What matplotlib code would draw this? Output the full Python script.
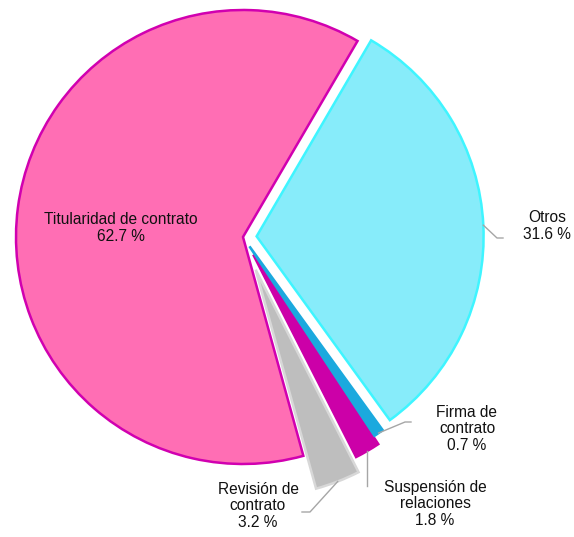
import numpy as np
import matplotlib.pyplot as plt

plt.rcParams['font.family'] = ['Liberation Sans', 'DejaVu Sans']

# Datos
categorias = ['Titularidad de contrato', 'Revisión de\ncontrato', 'Suspensión de\nrelaciones',
              'Firma de\ncontrato', 'Otros']
porcentajes = [62.7, 3.2, 1.8, 0.7, 31.6]

colores = ['#FF6EB4', '#BEBEBE', '#CC00A8', '#1BA9DE', '#87ECFA']
bordes = ['#D100B0', '#D8D8D8', '#CC00A8', '#1BA9DE', '#3FF5FF']
separacion = [0, 0.155, 0.09, 0.05, 0.06]

# Geometria de la figura (px)
W, H = 574, 537
cx, cy, R = 243, 237, 227

fig = plt.figure(figsize=(W / 100, H / 100), dpi=100)
ax = fig.add_axes([0, 0, 1, 1])

wedges, _ = ax.pie(porcentajes, colors=colores, explode=separacion, startangle=59.7,
                   counterclock=True, radius=1, center=(0, 0), frame=True,
                   wedgeprops=dict(linewidth=1.8))
for w, b in zip(wedges, bordes):
    w.set_edgecolor(b)
ax.set_xlim(-cx / R, (W - cx) / R)
ax.set_ylim(-(H - cy) / R, cy / R)
ax.set_aspect('equal')
ax.axis('off')


def px(x, y):
    return (x - cx) / R, (cy - y) / R


def borde(i, frac=0.5, r=1.0):
    w = wedges[i]
    ang = np.deg2rad(w.theta1 + frac * (w.theta2 - w.theta1))
    c = w.center
    return c[0] + r * np.cos(ang), c[1] + r * np.sin(ang)


etiquetas = [f'{c}\n{str(p)} %' for c, p in zip(categorias, porcentajes)]
kw = dict(fontsize=11.2, ha='center', va='center', color='#111111', linespacing=1.15)
gris = '#A6A6A6'

# Titularidad (dentro)
ax.text(*px(121, 228), etiquetas[0], **kw)

# Otros
x0, y0 = borde(4, 0.5, 1.0)
x1, y1 = px(497, 238)
x2, y2 = px(503, 238)
ax.plot([x0, x1, x2], [y0, y1, y2], color=gris, lw=1)
ax.text(*px(547, 226), etiquetas[4], **kw)

# Firma de contrato
x0, y0 = borde(3, 0.5, 1.0)
x1, y1 = px(405, 422)
x2, y2 = px(411, 422)
ax.plot([x0, x1, x2], [y0, y1, y2], color=gris, lw=1)
ax.text(*px(467, 429), etiquetas[3], **kw)

# Suspension de relaciones
x0, y0 = borde(2, 0.5, 1.0)
x1, y1 = px(370, 486)
ax.plot([x0, x0], [y0, y1], color=gris, lw=1)
ax.text(*px(435, 504), etiquetas[2], **kw)

# Revision de contrato
x0, y0 = borde(1, 0.5, 1.0)
x1, y1 = px(310, 512)
x2, y2 = px(302, 512)
ax.plot([x0, x1, x2], [y0, y1, y2], color=gris, lw=1)
ax.text(*px(258, 506), etiquetas[1], **kw)

fig.savefig('out.png', dpi=100, facecolor='white')
